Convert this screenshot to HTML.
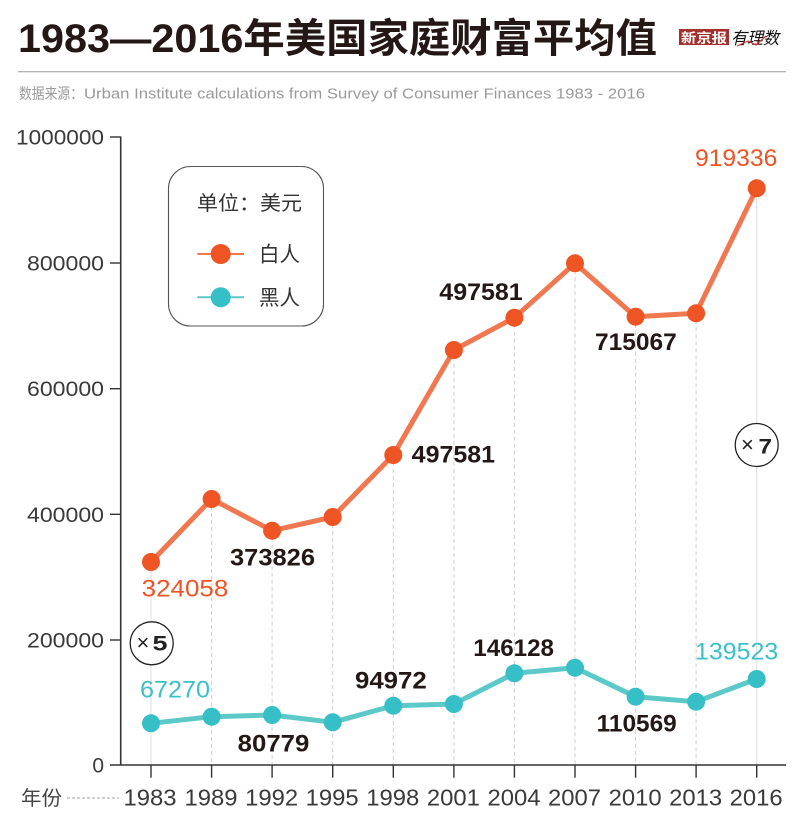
<!DOCTYPE html>
<html>
<head>
<meta charset="utf-8">
<style>
  html,body{margin:0;padding:0;background:#fff;}
  svg{display:block;}
  text{font-family:"Liberation Sans","Noto Sans CJK SC",sans-serif;}
</style>
</head>
<body>
<svg width="800" height="838" viewBox="0 0 800 838" xmlns="http://www.w3.org/2000/svg">
  <rect width="800" height="838" fill="#fff"/>

  <!-- Title -->
  <text x="18" y="52" font-size="40" font-weight="bold" fill="#231815" textLength="639" lengthAdjust="spacingAndGlyphs">1983—2016年美国家庭财富平均值</text>

  <!-- Logo -->
  <rect x="679" y="29" width="50" height="16" fill="#a3302c"/>
  <text x="681" y="42.5" font-size="13" font-weight="bold" fill="#fff" font-family="'Noto Serif CJK SC',serif" textLength="46" lengthAdjust="spacingAndGlyphs">新京报</text>
  <text x="731" y="44" font-size="17" font-style="italic" fill="#111" textLength="48" lengthAdjust="spacingAndGlyphs">有理数</text>
  <polyline points="737,46 748,41 756,45 766,36" fill="none" stroke="#d0342c" stroke-width="1.2"/>

  <!-- separator -->
  <line x1="18" y1="71.7" x2="786" y2="71.7" stroke="#9a9a9a" stroke-width="1"/>

  <!-- source -->
  <text x="19" y="98.5" font-size="15" fill="#9a9a9a" textLength="64" lengthAdjust="spacingAndGlyphs">数据来源：</text>
  <text x="84" y="98.5" font-size="15" fill="#9a9a9a" textLength="561" lengthAdjust="spacingAndGlyphs">Urban Institute calculations from Survey of Consumer Finances 1983 - 2016</text>

  <!-- gridlines (vertical) -->
  <g stroke-width="1">
    <line x1="151" y1="562" x2="151" y2="765" stroke="#dcdcdc"/>
    <line x1="211.6" y1="499" x2="211.6" y2="765" stroke="#cfcfcf" stroke-dasharray="4,3"/>
    <line x1="272.1" y1="530.7" x2="272.1" y2="765" stroke="#cfcfcf" stroke-dasharray="4,3"/>
    <line x1="332.7" y1="517" x2="332.7" y2="765" stroke="#cfcfcf" stroke-dasharray="4,3"/>
    <line x1="393.3" y1="455" x2="393.3" y2="765" stroke="#cfcfcf" stroke-dasharray="4,3"/>
    <line x1="453.9" y1="350" x2="453.9" y2="765" stroke="#cfcfcf" stroke-dasharray="4,3"/>
    <line x1="514.4" y1="317.7" x2="514.4" y2="765" stroke="#cfcfcf" stroke-dasharray="4,3"/>
    <line x1="575" y1="263.3" x2="575" y2="765" stroke="#cfcfcf" stroke-dasharray="4,3"/>
    <line x1="635.6" y1="316.7" x2="635.6" y2="765" stroke="#cfcfcf" stroke-dasharray="4,3"/>
    <line x1="696.1" y1="313.3" x2="696.1" y2="765" stroke="#cfcfcf" stroke-dasharray="4,3"/>
    <line x1="756.7" y1="188.3" x2="756.7" y2="765" stroke="#dcdcdc"/>
  </g>

  <!-- axes -->
  <line x1="120.7" y1="136.5" x2="120.7" y2="765.5" stroke="#333" stroke-width="1.6"/>
  <line x1="110" y1="765" x2="786" y2="765" stroke="#333" stroke-width="1.6"/>
  <g stroke="#333" stroke-width="1.4">
    <line x1="110" y1="137" x2="121" y2="137"/>
    <line x1="110" y1="263" x2="121" y2="263"/>
    <line x1="110" y1="388.7" x2="121" y2="388.7"/>
    <line x1="110" y1="514.3" x2="121" y2="514.3"/>
    <line x1="110" y1="640" x2="121" y2="640"/>
    <line x1="151" y1="765" x2="151" y2="777.7"/>
    <line x1="211.6" y1="765" x2="211.6" y2="777.7"/>
    <line x1="272.1" y1="765" x2="272.1" y2="777.7"/>
    <line x1="332.7" y1="765" x2="332.7" y2="777.7"/>
    <line x1="393.3" y1="765" x2="393.3" y2="777.7"/>
    <line x1="453.9" y1="765" x2="453.9" y2="777.7"/>
    <line x1="514.4" y1="765" x2="514.4" y2="777.7"/>
    <line x1="575" y1="765" x2="575" y2="777.7"/>
    <line x1="635.6" y1="765" x2="635.6" y2="777.7"/>
    <line x1="696.1" y1="765" x2="696.1" y2="777.7"/>
    <line x1="756.7" y1="765" x2="756.7" y2="777.7"/>
  </g>

  <!-- y labels -->
  <g font-size="21" fill="#3a3a3a" text-anchor="end">
    <text x="104" y="144.5" textLength="88" lengthAdjust="spacingAndGlyphs">1000000</text>
    <text x="104" y="270.5" textLength="77" lengthAdjust="spacingAndGlyphs">800000</text>
    <text x="104" y="396.2" textLength="77" lengthAdjust="spacingAndGlyphs">600000</text>
    <text x="104" y="521.8" textLength="77" lengthAdjust="spacingAndGlyphs">400000</text>
    <text x="104" y="647.5" textLength="77" lengthAdjust="spacingAndGlyphs">200000</text>
    <text x="104" y="772.5">0</text>
  </g>

  <!-- x labels -->
  <g font-size="23" fill="#3a3a3a" text-anchor="middle">
    <text x="150" y="805.7" textLength="53" lengthAdjust="spacingAndGlyphs">1983</text>
    <text x="211" y="805.7" textLength="53" lengthAdjust="spacingAndGlyphs">1989</text>
    <text x="271.6" y="805.7" textLength="53" lengthAdjust="spacingAndGlyphs">1992</text>
    <text x="332.2" y="805.7" textLength="53" lengthAdjust="spacingAndGlyphs">1995</text>
    <text x="392.8" y="805.7" textLength="53" lengthAdjust="spacingAndGlyphs">1998</text>
    <text x="453.4" y="805.7" textLength="53" lengthAdjust="spacingAndGlyphs">2001</text>
    <text x="514" y="805.7" textLength="53" lengthAdjust="spacingAndGlyphs">2004</text>
    <text x="574.5" y="805.7" textLength="53" lengthAdjust="spacingAndGlyphs">2007</text>
    <text x="635.1" y="805.7" textLength="53" lengthAdjust="spacingAndGlyphs">2010</text>
    <text x="695.7" y="805.7" textLength="53" lengthAdjust="spacingAndGlyphs">2013</text>
    <text x="756.2" y="805.7" textLength="53" lengthAdjust="spacingAndGlyphs">2016</text>
  </g>
  <text x="21" y="805" font-size="20" fill="#444" textLength="41" lengthAdjust="spacingAndGlyphs">年份</text>
  <line x1="67" y1="798" x2="119" y2="798" stroke="#a0a0a0" stroke-width="1" stroke-dasharray="3,2"/>

  <!-- White series -->
  <polyline fill="none" stroke="#f07850" stroke-width="5" stroke-linejoin="round"
    points="151,562 211.6,499 272.1,530.7 332.7,517 393.3,455 453.9,350 514.4,317.7 575,263.3 635.6,316.7 696.1,313.3 756.7,188.3"/>
  <g fill="#ee5424">
    <circle cx="151" cy="562" r="9"/>
    <circle cx="211.6" cy="499" r="9"/>
    <circle cx="272.1" cy="530.7" r="9"/>
    <circle cx="332.7" cy="517" r="9"/>
    <circle cx="393.3" cy="455" r="9"/>
    <circle cx="453.9" cy="350" r="9"/>
    <circle cx="514.4" cy="317.7" r="9"/>
    <circle cx="575" cy="263.3" r="9"/>
    <circle cx="635.6" cy="316.7" r="9"/>
    <circle cx="696.1" cy="313.3" r="9"/>
    <circle cx="756.7" cy="188.3" r="9"/>
  </g>

  <!-- Black series -->
  <polyline fill="none" stroke="#5cc8c8" stroke-width="5" stroke-linejoin="round"
    points="151,723.3 211.6,716.7 272.1,715 332.7,722.3 393.3,705.7 453.9,704 514.4,673.3 575,667.7 635.6,696.7 696.1,701.7 756.7,679"/>
  <g fill="#36bfc6">
    <circle cx="151" cy="723.3" r="9"/>
    <circle cx="211.6" cy="716.7" r="9"/>
    <circle cx="272.1" cy="715" r="9"/>
    <circle cx="332.7" cy="722.3" r="9"/>
    <circle cx="393.3" cy="705.7" r="9"/>
    <circle cx="453.9" cy="704" r="9"/>
    <circle cx="514.4" cy="673.3" r="9"/>
    <circle cx="575" cy="667.7" r="9"/>
    <circle cx="635.6" cy="696.7" r="9"/>
    <circle cx="696.1" cy="701.7" r="9"/>
    <circle cx="756.7" cy="679" r="9"/>
  </g>

  <!-- data labels -->
  <g font-size="24" font-weight="bold" fill="#231815">
    <text x="230" y="565.7" textLength="85" lengthAdjust="spacingAndGlyphs">373826</text>
    <text x="411.7" y="462.7" textLength="83.3" lengthAdjust="spacingAndGlyphs">497581</text>
    <text x="439.3" y="300" textLength="83.4" lengthAdjust="spacingAndGlyphs">497581</text>
    <text x="595" y="350" textLength="81.7" lengthAdjust="spacingAndGlyphs">715067</text>
    <text x="237.7" y="751.7" textLength="71.6" lengthAdjust="spacingAndGlyphs">80779</text>
    <text x="355" y="688.3" textLength="71.7" lengthAdjust="spacingAndGlyphs">94972</text>
    <text x="473.3" y="656" textLength="80.7" lengthAdjust="spacingAndGlyphs">146128</text>
    <text x="596.7" y="731.7" textLength="80" lengthAdjust="spacingAndGlyphs">110569</text>
  </g>
  <g font-size="24">
    <text x="141.7" y="596.7" fill="#ee5424" textLength="86.6" lengthAdjust="spacingAndGlyphs">324058</text>
    <text x="695" y="166" fill="#ee5424" textLength="82.3" lengthAdjust="spacingAndGlyphs">919336</text>
    <text x="140" y="697.7" fill="#3cc0c8" textLength="70" lengthAdjust="spacingAndGlyphs">67270</text>
    <text x="695" y="659.3" fill="#3cc0c8" textLength="83.3" lengthAdjust="spacingAndGlyphs">139523</text>
  </g>

  <!-- x5 / x7 badges -->
  <circle cx="151.7" cy="643.3" r="21.5" fill="#fff" stroke="#222" stroke-width="1.3"/>
  <text x="136.5" y="650" font-size="22" fill="#222">×</text>
  <text x="152.5" y="650.7" font-size="21" font-weight="bold" fill="#222" textLength="15" lengthAdjust="spacingAndGlyphs">5</text>

  <circle cx="756.7" cy="445" r="21.5" fill="#fff" stroke="#222" stroke-width="1.3"/>
  <text x="741" y="452" font-size="22" fill="#222">×</text>
  <text x="758.5" y="453.3" font-size="21" font-weight="bold" fill="#222" textLength="13.5" lengthAdjust="spacingAndGlyphs">7</text>

  <!-- Legend -->
  <rect x="168.5" y="166.5" width="155" height="159.5" rx="22" ry="22" fill="#fff" stroke="#555" stroke-width="1.1"/>
  <text x="197" y="210" font-size="20" fill="#333" textLength="105" lengthAdjust="spacingAndGlyphs">单位：美元</text>
  <line x1="197.3" y1="254" x2="244" y2="254" stroke="#f07850" stroke-width="2"/>
  <circle cx="220.7" cy="254" r="10" fill="#ee5424"/>
  <text x="259" y="261.5" font-size="21" fill="#333" textLength="41" lengthAdjust="spacingAndGlyphs">白人</text>
  <line x1="197.3" y1="297.3" x2="244" y2="297.3" stroke="#5cc8c8" stroke-width="2"/>
  <circle cx="220.7" cy="297.3" r="10" fill="#36bfc6"/>
  <text x="259" y="305" font-size="21" fill="#333" textLength="41" lengthAdjust="spacingAndGlyphs">黑人</text>
</svg>
</body>
</html>
